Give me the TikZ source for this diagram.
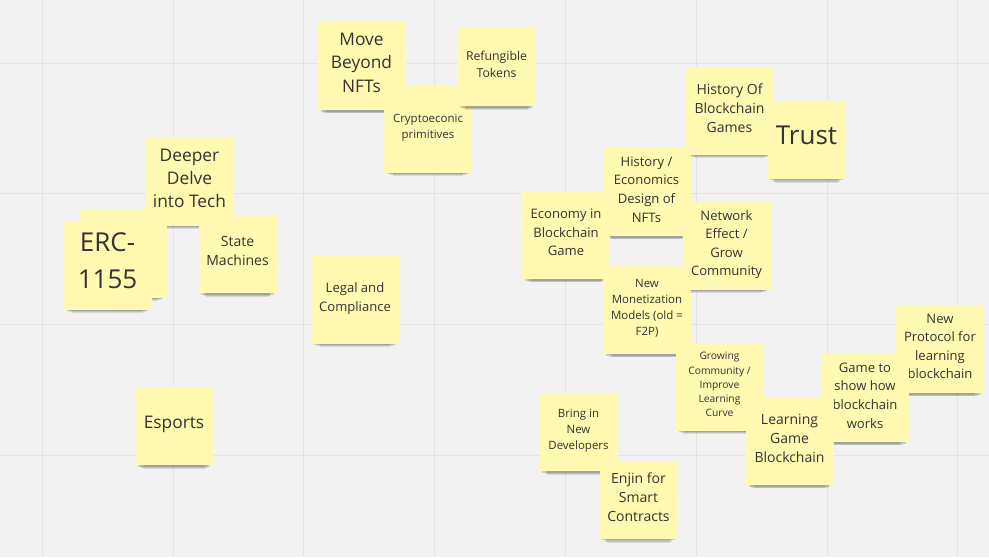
\documentclass[tikz,border=0pt]{standalone}
\usepackage{fontspec}
\setmainfont{Open Sans}
\usetikzlibrary{shadows}
\definecolor{boardc}{HTML}{F2F2F2}
\definecolor{gridc}{HTML}{E4E4E4}
\definecolor{notec}{HTML}{FFF9B1}
\definecolor{inkc}{HTML}{333333}
\tikzset{
  sticky/.style={fill=notec, text=inkc, align=center, inner sep=0pt,
    minimum width=66pt, minimum height=66pt,
    general shadow={fill=black, opacity=.14, shadow scale=.93, shadow yshift=-3.8pt},
    general shadow={fill=black, opacity=.12, shadow scale=.87, shadow yshift=-7.3pt},
    general shadow={fill=black, opacity=.10, shadow scale=.80, shadow yshift=-11.1pt}},
  small sticky/.style={sticky, minimum width=58.5pt, minimum height=58.5pt},
  bigtxt/.style={font=\fontsize{19.5}{27.8}\selectfont, text depth=7pt},
  largetxt/.style={font=\fontsize{13}{17.6}\selectfont, text depth=4.8pt},
  midtxt/.style={font=\fontsize{10.5}{14.3}\selectfont, text depth=4pt},
  normtxt/.style={font=\fontsize{9.8}{13.9}\selectfont, text depth=3.8pt},
  smalltxt/.style={font=\fontsize{8.6}{12}\selectfont, text depth=3.4pt},
  tinytxt/.style={font=\fontsize{7.7}{10.7}\selectfont, text depth=3pt}
}
\begin{document}
\begin{tikzpicture}[x=0.75pt,y=-0.75pt]
\tikzstyle{gridline} = [draw=gridc,line width=0.75pt]
\useasboundingbox (0,0) rectangle (989,557);
\fill[boardc] (0,0) rectangle (989,557);
% board grid
\foreach \i in {0,...,7}
  \draw[gridline] ({42.3+130.8*\i},0) -- ++(0,557);
\foreach \j in {0,...,3}
  \draw[gridline] (0,{63+130.8*\j}) -- ++(989,0);
% left cluster
\node[sticky,largetxt] (deeper) at (189.5,181.5) {Deeper\\Delve\\into Tech};
\node[sticky] (ercback) at (122.5,253.5) {};
\node[sticky,bigtxt] (erc) at (107.5,265.5) {ERC-\\1155};
\node[small sticky,midtxt] (states) at (237.5,254) {State\\Machines};
\node[small sticky,largetxt] (esports) at (174,426) {Esports};
\node[sticky,normtxt] (legal) at (355,299.5) {Legal and\\Compliance};
% top cluster
\node[sticky,largetxt] (move) at (361.5,66) {Move\\Beyond\\NFTs};
\node[sticky,smalltxt] (crypto) at (428,128.5) {Cryptoeconic\\primitives};
\node[small sticky,font=\fontsize{9.2}{12.8}\selectfont,text depth=3.6pt] (refungible) at (496.5,67) {Refungible\\Tokens};
% right cluster
\node[sticky,midtxt] (history) at (729.5,110.5) {History Of\\Blockchain\\Games};
\node[small sticky,bigtxt] (trust) at (806.5,139.5) {Trust};
\node[sticky,normtxt] (histecon) at (646.5,192) {History /\\Economics\\Design of\\NFTs};
\node[sticky,normtxt] (economy) at (566,235) {Economy in\\Blockchain\\Game};
\node[sticky,normtxt] (network) at (726.5,245.5) {Network\\Effect /\\Grow\\Community};
\node[sticky,smalltxt] (monetize) at (647,310) {New\\Monetization\\Models (old =\\F2P)};
\node[sticky,tinytxt] (growing) at (719.5,386.5) {Growing\\Community /\\Improve\\Learning\\Curve};
\node[sticky,normtxt] (protocol) at (940,349) {New\\Protocol for\\learning\\blockchain};
\node[sticky,normtxt] (gameshow) at (865,398) {Game to\\show how\\blockchain\\works};
\node[sticky,midtxt] (learngame) at (789.5,441) {Learning\\Game\\Blockchain};
% bottom pair
\node[small sticky,smalltxt] (developers) at (578.5,432) {Bring in\\New\\Developers};
\node[small sticky,midtxt] (enjin) at (638.5,499.5) {Enjin for\\Smart\\Contracts};
\end{tikzpicture}
\end{document}
